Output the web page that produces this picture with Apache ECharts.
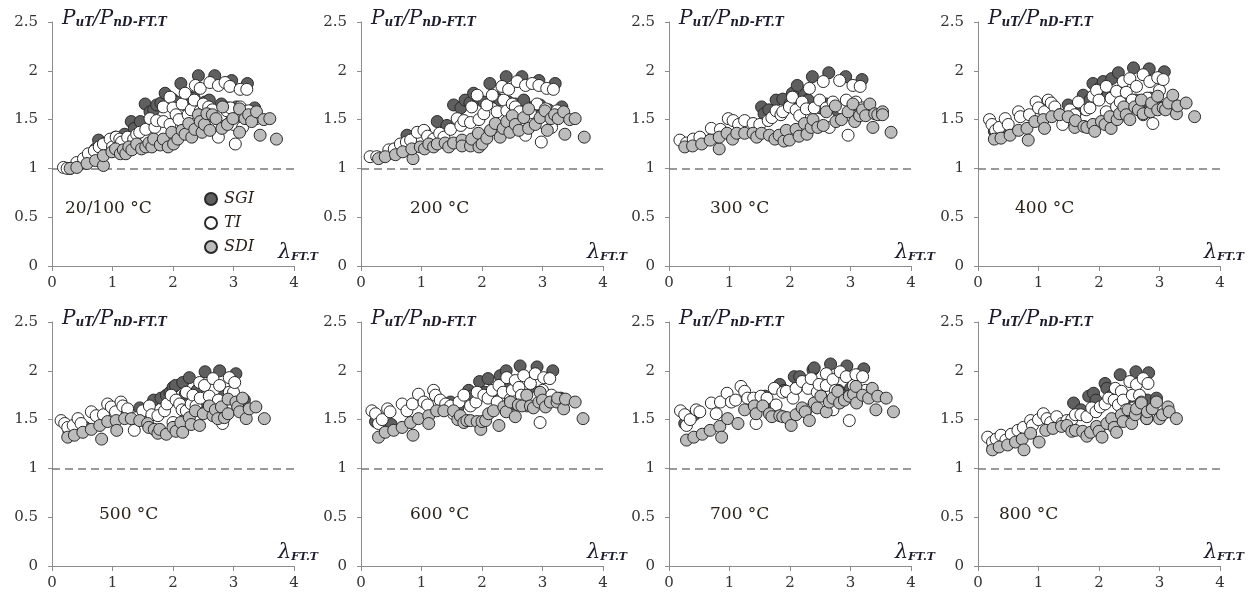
<!DOCTYPE html>
<html>
<head>
<meta charset="utf-8">
<script src="https://cdn.jsdelivr.net/npm/echarts@6/dist/echarts.min.js"></script>
<style>
html,body{margin:0;padding:0;background:#fff;}
#chart{width:1258px;height:597px;}
</style>
</head>
<body>
<div id="chart"></div>
<script>
// ---------- data ----------
const panelLabels = ['20/100 °C', '200 °C', '300 °C', '400 °C', '500 °C', '600 °C', '700 °C', '800 °C'];
const seriesNames = ['SGI', 'TI', 'SDI'];
const xTicks = [0, 1, 2, 3, 4];
const yTicks = [0, 0.5, 1, 1.5, 2, 2.5];
const refLine = 1;

const sgi_100 = [[0.30,1.00],[0.45,1.04],[0.60,1.13],[0.72,1.20],[0.77,1.29],[0.85,1.25],[1.05,1.32],[1.20,1.35],[1.31,1.48],[1.36,1.41],[1.46,1.48],[1.54,1.66],[1.62,1.58],[1.68,1.60],[1.73,1.65],[1.80,1.67],[1.87,1.77],[1.99,1.71],[2.06,1.68],[2.13,1.87],[2.20,1.65],[2.28,1.73],[2.35,1.72],[2.42,1.95],[2.53,1.68],[2.60,1.70],[2.69,1.95],[2.80,1.66],[2.90,1.62],[2.97,1.90],[3.05,1.63],[3.15,1.60],[3.23,1.87],[3.35,1.62]];
const ti_100 = [[0.19,1.01],[0.25,1.00],[0.41,1.06],[0.52,1.10],[0.60,1.15],[0.70,1.18],[0.78,1.22],[0.85,1.25],[0.96,1.30],[1.00,1.22],[1.06,1.32],[1.12,1.30],[1.15,1.27],[1.25,1.32],[1.35,1.30],[1.40,1.35],[1.45,1.37],[1.55,1.40],[1.62,1.51],[1.70,1.42],[1.73,1.49],[1.84,1.48],[1.84,1.63],[1.95,1.73],[1.95,1.45],[2.00,1.62],[2.05,1.55],[2.10,1.50],[2.15,1.66],[2.20,1.77],[2.25,1.55],[2.30,1.60],[2.35,1.70],[2.37,1.85],[2.45,1.82],[2.45,1.59],[2.50,1.66],[2.55,1.52],[2.59,1.63],[2.61,1.88],[2.65,1.60],[2.75,1.85],[2.75,1.32],[2.80,1.55],[2.86,1.88],[2.89,1.59],[2.94,1.84],[2.95,1.62],[3.00,1.45],[3.03,1.25],[3.11,1.81],[3.11,1.63],[3.15,1.42],[3.22,1.81],[3.25,1.59],[3.38,1.51]];
const sdi_100 = [[0.30,1.00],[0.41,1.01],[0.58,1.05],[0.72,1.08],[0.85,1.03],[0.85,1.13],[0.99,1.17],[1.05,1.20],[1.13,1.15],[1.18,1.19],[1.22,1.15],[1.27,1.22],[1.32,1.19],[1.40,1.25],[1.48,1.20],[1.55,1.22],[1.60,1.26],[1.65,1.22],[1.68,1.30],[1.79,1.24],[1.84,1.30],[1.92,1.22],[1.98,1.37],[2.01,1.25],[2.08,1.30],[2.15,1.39],[2.20,1.35],[2.26,1.46],[2.31,1.32],[2.36,1.40],[2.42,1.55],[2.45,1.48],[2.48,1.37],[2.52,1.45],[2.56,1.56],[2.61,1.39],[2.65,1.55],[2.71,1.51],[2.81,1.41],[2.82,1.63],[2.90,1.45],[2.99,1.51],[3.10,1.61],[3.10,1.37],[3.19,1.51],[3.25,1.55],[3.30,1.48],[3.38,1.58],[3.44,1.34],[3.50,1.50],[3.60,1.51],[3.71,1.30]];

const sgi_200 = [[0.29,1.11],[0.55,1.15],[0.76,1.34],[1.05,1.38],[1.26,1.48],[1.42,1.44],[1.53,1.65],[1.65,1.62],[1.72,1.70],[1.80,1.67],[1.86,1.77],[1.94,1.71],[2.03,1.68],[2.13,1.87],[2.22,1.73],[2.30,1.70],[2.40,1.94],[2.44,1.68],[2.55,1.66],[2.66,1.94],[2.69,1.70],[2.85,1.63],[2.94,1.90],[2.96,1.65],[3.10,1.60],[3.21,1.87],[3.32,1.63]];
const ti_200 = [[0.15,1.12],[0.26,1.12],[0.46,1.19],[0.55,1.20],[0.65,1.25],[0.75,1.27],[0.82,1.29],[0.93,1.37],[1.04,1.39],[1.10,1.33],[1.20,1.30],[1.30,1.36],[1.37,1.32],[1.48,1.40],[1.59,1.51],[1.65,1.44],[1.70,1.49],[1.81,1.47],[1.83,1.63],[1.92,1.75],[1.95,1.50],[2.03,1.56],[2.08,1.65],[2.17,1.75],[2.25,1.58],[2.33,1.84],[2.36,1.70],[2.41,1.59],[2.44,1.81],[2.50,1.66],[2.55,1.63],[2.58,1.89],[2.62,1.58],[2.72,1.85],[2.72,1.34],[2.80,1.57],[2.83,1.87],[2.91,1.66],[2.94,1.85],[2.98,1.27],[3.00,1.47],[3.05,1.61],[3.07,1.82],[3.15,1.42],[3.18,1.81],[3.24,1.59]];
const sdi_200 = [[0.29,1.10],[0.40,1.12],[0.57,1.14],[0.69,1.17],[0.86,1.10],[0.84,1.20],[0.98,1.22],[1.05,1.20],[1.12,1.25],[1.20,1.22],[1.26,1.25],[1.39,1.26],[1.45,1.22],[1.53,1.26],[1.67,1.29],[1.67,1.23],[1.81,1.23],[1.83,1.30],[1.94,1.36],[1.95,1.22],[2.00,1.25],[2.08,1.31],[2.14,1.39],[2.22,1.46],[2.30,1.32],[2.35,1.41],[2.41,1.48],[2.46,1.37],[2.50,1.54],[2.55,1.45],[2.61,1.39],[2.69,1.52],[2.77,1.41],[2.77,1.61],[2.88,1.45],[2.96,1.52],[3.04,1.59],[3.08,1.39],[3.14,1.51],[3.20,1.55],[3.26,1.51],[3.35,1.58],[3.37,1.35],[3.45,1.50],[3.54,1.51],[3.69,1.32]];

const sgi_300 = [[0.28,1.24],[0.55,1.28],[1.53,1.63],[1.57,1.56],[1.65,1.60],[1.77,1.70],[1.88,1.71],[2.00,1.66],[2.04,1.77],[2.12,1.85],[2.24,1.75],[2.30,1.70],[2.37,1.94],[2.50,1.62],[2.60,1.66],[2.64,1.98],[2.80,1.58],[2.90,1.62],[2.92,1.94],[3.05,1.60],[3.19,1.91],[3.30,1.58]];
const ti_300 = [[0.18,1.29],[0.29,1.26],[0.40,1.30],[0.51,1.32],[0.70,1.41],[0.85,1.40],[0.98,1.51],[1.06,1.49],[1.15,1.45],[1.25,1.49],[1.39,1.46],[1.50,1.45],[1.64,1.49],[1.70,1.52],[1.77,1.59],[1.85,1.55],[1.88,1.58],[1.99,1.63],[2.04,1.73],[2.10,1.60],[2.16,1.54],[2.20,1.68],[2.27,1.61],[2.32,1.82],[2.40,1.62],[2.49,1.70],[2.55,1.89],[2.60,1.62],[2.65,1.42],[2.71,1.68],[2.82,1.90],[2.85,1.62],[2.93,1.70],[2.96,1.34],[3.00,1.55],[3.04,1.85],[3.09,1.68],[3.16,1.84],[3.20,1.62]];
const sdi_300 = [[0.26,1.22],[0.39,1.23],[0.54,1.25],[0.68,1.29],[0.83,1.20],[0.83,1.32],[0.96,1.36],[1.05,1.30],[1.12,1.36],[1.25,1.36],[1.39,1.36],[1.45,1.32],[1.53,1.36],[1.66,1.34],[1.75,1.30],[1.82,1.34],[1.90,1.28],[1.94,1.39],[1.99,1.29],[2.10,1.40],[2.15,1.33],[2.24,1.46],[2.28,1.35],[2.35,1.42],[2.38,1.50],[2.46,1.42],[2.55,1.44],[2.60,1.58],[2.75,1.64],[2.76,1.48],[2.85,1.50],[2.96,1.58],[3.04,1.66],[3.07,1.48],[3.15,1.54],[3.20,1.60],[3.25,1.54],[3.32,1.66],[3.37,1.42],[3.40,1.56],[3.45,1.55],[3.53,1.58],[3.53,1.55],[3.67,1.37]];

const sgi_400 = [[0.27,1.38],[0.50,1.40],[1.49,1.65],[1.62,1.58],[1.74,1.75],[1.85,1.70],[1.90,1.87],[2.00,1.82],[2.07,1.89],[2.15,1.75],[2.21,1.92],[2.32,1.98],[2.40,1.78],[2.45,1.62],[2.57,2.03],[2.60,1.70],[2.70,1.60],[2.83,2.02],[2.85,1.72],[2.95,1.66],[3.08,1.99],[3.20,1.68]];
const ti_400 = [[0.19,1.50],[0.23,1.45],[0.29,1.39],[0.35,1.42],[0.45,1.51],[0.50,1.45],[0.67,1.58],[0.70,1.53],[0.85,1.55],[0.96,1.68],[1.00,1.62],[1.10,1.58],[1.16,1.70],[1.21,1.67],[1.27,1.63],[1.35,1.55],[1.40,1.45],[1.52,1.60],[1.60,1.55],[1.66,1.68],[1.79,1.60],[1.85,1.62],[1.90,1.74],[1.96,1.80],[2.00,1.70],[2.12,1.84],[2.12,1.58],[2.20,1.72],[2.29,1.79],[2.29,1.63],[2.35,1.68],[2.40,1.89],[2.45,1.78],[2.51,1.92],[2.55,1.70],[2.62,1.84],[2.65,1.62],[2.73,1.96],[2.73,1.55],[2.80,1.72],[2.84,1.89],[2.89,1.46],[2.95,1.62],[2.97,1.93],[3.00,1.80],[3.06,1.91]];
const sdi_400 = [[0.27,1.30],[0.38,1.31],[0.53,1.34],[0.67,1.39],[0.81,1.41],[0.83,1.29],[0.94,1.48],[1.08,1.50],[1.10,1.41],[1.22,1.53],[1.35,1.55],[1.49,1.53],[1.60,1.42],[1.61,1.49],[1.75,1.43],[1.80,1.42],[1.90,1.45],[1.93,1.38],[2.04,1.48],[2.10,1.45],[2.18,1.53],[2.20,1.41],[2.30,1.50],[2.34,1.56],[2.41,1.63],[2.45,1.55],[2.51,1.50],[2.59,1.63],[2.65,1.60],[2.70,1.70],[2.73,1.56],[2.85,1.58],[2.87,1.67],[2.97,1.74],[2.97,1.60],[3.06,1.62],[3.10,1.60],[3.15,1.67],[3.22,1.75],[3.28,1.56],[3.30,1.64],[3.44,1.67],[3.58,1.53]];

const sgi_500 = [[0.28,1.38],[0.55,1.42],[1.45,1.62],[1.60,1.58],[1.68,1.70],[1.80,1.72],[1.89,1.75],[1.95,1.78],[2.00,1.83],[2.04,1.85],[2.16,1.88],[2.20,1.76],[2.27,1.93],[2.40,1.80],[2.45,1.62],[2.53,1.99],[2.60,1.72],[2.70,1.60],[2.77,2.00],[2.85,1.75],[2.95,1.66],[3.04,1.97],[3.18,1.70]];
const ti_500 = [[0.15,1.49],[0.21,1.46],[0.26,1.42],[0.35,1.44],[0.43,1.51],[0.48,1.46],[0.65,1.58],[0.73,1.54],[0.85,1.55],[0.92,1.66],[0.98,1.63],[1.05,1.58],[1.14,1.68],[1.17,1.64],[1.25,1.61],[1.36,1.39],[1.40,1.52],[1.50,1.59],[1.61,1.64],[1.65,1.55],[1.75,1.54],[1.86,1.59],[1.90,1.66],[1.97,1.75],[2.00,1.47],[2.05,1.70],[2.11,1.66],[2.15,1.60],[2.22,1.78],[2.22,1.59],[2.30,1.66],[2.33,1.75],[2.38,1.64],[2.44,1.88],[2.45,1.72],[2.52,1.85],[2.60,1.74],[2.66,1.92],[2.68,1.54],[2.75,1.70],[2.77,1.85],[2.82,1.46],[2.88,1.62],[2.93,1.93],[2.93,1.78],[3.00,1.78],[3.02,1.88]];
const sdi_500 = [[0.26,1.32],[0.37,1.34],[0.51,1.37],[0.65,1.40],[0.79,1.44],[0.82,1.30],[0.92,1.48],[1.06,1.49],[1.07,1.39],[1.20,1.51],[1.31,1.51],[1.45,1.49],[1.58,1.46],[1.60,1.42],[1.69,1.40],[1.75,1.36],[1.78,1.40],[1.89,1.35],[2.00,1.42],[2.05,1.38],[2.13,1.47],[2.16,1.37],[2.27,1.52],[2.30,1.45],[2.37,1.59],[2.44,1.44],[2.50,1.56],[2.60,1.64],[2.66,1.54],[2.70,1.60],[2.74,1.51],[2.80,1.63],[2.85,1.52],[2.91,1.56],[2.91,1.71],[3.04,1.68],[3.07,1.63],[3.10,1.58],[3.15,1.72],[3.21,1.51],[3.26,1.61],[3.37,1.63],[3.51,1.51]];

const sgi_600 = [[0.24,1.48],[0.50,1.45],[1.48,1.68],[1.60,1.62],[1.78,1.80],[1.85,1.75],[1.96,1.89],[2.05,1.78],[2.10,1.92],[2.20,1.80],[2.30,1.95],[2.40,2.00],[2.45,1.82],[2.50,1.66],[2.63,2.05],[2.70,1.75],[2.75,1.66],[2.90,1.78],[2.91,2.04],[3.00,1.70],[3.17,2.00],[3.30,1.72]];
const ti_600 = [[0.18,1.59],[0.24,1.56],[0.29,1.46],[0.35,1.50],[0.44,1.61],[0.48,1.58],[0.68,1.66],[0.76,1.59],[0.85,1.66],[0.95,1.76],[1.04,1.68],[1.10,1.65],[1.20,1.80],[1.23,1.75],[1.31,1.70],[1.40,1.66],[1.48,1.64],[1.53,1.56],[1.62,1.68],[1.70,1.75],[1.81,1.64],[1.90,1.68],[1.92,1.78],[2.03,1.75],[2.10,1.72],[2.17,1.80],[2.25,1.68],[2.28,1.85],[2.35,1.78],[2.41,1.93],[2.47,1.71],[2.50,1.80],[2.55,1.90],[2.61,1.83],[2.65,1.75],[2.69,1.95],[2.74,1.64],[2.80,1.87],[2.85,1.72],[2.88,1.97],[2.96,1.47],[3.00,1.80],[3.02,1.93],[3.12,1.92],[3.15,1.75]];
const sdi_600 = [[0.29,1.32],[0.40,1.37],[0.54,1.39],[0.68,1.42],[0.82,1.47],[0.86,1.34],[0.95,1.51],[1.12,1.54],[1.12,1.46],[1.25,1.59],[1.37,1.59],[1.53,1.59],[1.60,1.50],[1.64,1.54],[1.70,1.47],[1.75,1.49],[1.81,1.49],[1.92,1.48],[1.98,1.40],[2.00,1.48],[2.06,1.49],[2.11,1.56],[2.19,1.59],[2.28,1.44],[2.36,1.63],[2.40,1.58],[2.47,1.68],[2.55,1.53],[2.60,1.65],[2.66,1.64],[2.74,1.75],[2.80,1.64],[2.85,1.62],[2.94,1.68],[2.96,1.78],[3.00,1.70],[3.05,1.63],[3.13,1.68],[3.24,1.68],[3.25,1.72],[3.35,1.61],[3.38,1.71],[3.54,1.68],[3.67,1.51]];

const sgi_700 = [[0.26,1.46],[0.42,1.55],[1.59,1.74],[1.70,1.62],[1.83,1.86],[1.90,1.80],[2.07,1.94],[2.10,1.82],[2.16,1.94],[2.30,1.86],[2.38,2.01],[2.40,2.03],[2.55,1.84],[2.55,1.70],[2.67,2.07],[2.80,1.80],[2.80,1.70],[2.94,2.05],[3.00,1.82],[3.05,1.74],[3.22,2.02],[3.35,1.76]];
const ti_700 = [[0.19,1.59],[0.26,1.55],[0.29,1.44],[0.35,1.50],[0.45,1.60],[0.51,1.58],[0.70,1.67],[0.78,1.56],[0.85,1.68],[0.96,1.77],[1.03,1.68],[1.10,1.70],[1.19,1.84],[1.25,1.79],[1.30,1.72],[1.40,1.72],[1.44,1.46],[1.52,1.74],[1.62,1.72],[1.74,1.82],[1.77,1.65],[1.88,1.78],[1.94,1.79],[2.05,1.72],[2.10,1.82],[2.20,1.89],[2.27,1.60],[2.30,1.82],[2.35,1.92],[2.45,1.78],[2.48,1.86],[2.49,1.67],[2.60,1.97],[2.60,1.85],[2.71,1.91],[2.71,1.60],[2.75,1.80],[2.83,1.99],[2.88,1.72],[2.93,1.94],[2.98,1.49],[3.05,1.85],[3.09,1.96],[3.20,1.94],[3.25,1.80]];
const sdi_700 = [[0.29,1.29],[0.41,1.32],[0.55,1.35],[0.68,1.39],[0.84,1.43],[0.87,1.32],[0.97,1.51],[1.14,1.46],[1.25,1.60],[1.41,1.64],[1.44,1.56],[1.55,1.64],[1.66,1.56],[1.70,1.53],[1.83,1.54],[1.88,1.53],[1.95,1.52],[2.02,1.44],[2.10,1.55],[2.20,1.62],[2.25,1.58],[2.32,1.49],[2.40,1.67],[2.45,1.62],[2.51,1.74],[2.60,1.58],[2.65,1.68],[2.71,1.72],[2.79,1.79],[2.82,1.67],[2.90,1.70],[2.98,1.74],[3.05,1.76],[3.09,1.84],[3.10,1.67],[3.20,1.75],[3.30,1.72],[3.36,1.82],[3.42,1.60],[3.45,1.74],[3.59,1.72],[3.71,1.58]];

const sgi_800 = [[0.25,1.22],[0.50,1.25],[1.58,1.67],[1.70,1.60],[1.83,1.74],[1.91,1.77],[1.95,1.70],[2.10,1.87],[2.13,1.82],[2.20,1.74],[2.35,1.96],[2.45,1.72],[2.45,1.58],[2.61,1.99],[2.65,1.68],[2.70,1.62],[2.80,1.70],[2.82,1.98],[2.95,1.72]];
const ti_800 = [[0.16,1.32],[0.24,1.27],[0.30,1.30],[0.38,1.34],[0.46,1.29],[0.55,1.35],[0.66,1.39],[0.75,1.42],[0.87,1.49],[0.90,1.44],[1.00,1.50],[1.08,1.56],[1.14,1.51],[1.20,1.47],[1.30,1.53],[1.39,1.46],[1.47,1.49],[1.55,1.50],[1.61,1.55],[1.70,1.55],[1.80,1.53],[1.88,1.62],[1.95,1.58],[2.02,1.63],[2.10,1.66],[2.16,1.72],[2.25,1.70],[2.27,1.82],[2.32,1.65],[2.37,1.79],[2.40,1.70],[2.45,1.60],[2.51,1.89],[2.55,1.75],[2.57,1.62],[2.62,1.86],[2.67,1.75],[2.70,1.68],[2.73,1.92],[2.79,1.51],[2.81,1.87]];
const sdi_800 = [[0.24,1.19],[0.35,1.22],[0.49,1.24],[0.62,1.27],[0.73,1.30],[0.76,1.19],[0.87,1.36],[1.01,1.27],[1.12,1.39],[1.24,1.41],[1.38,1.43],[1.47,1.44],[1.55,1.38],[1.61,1.39],[1.73,1.38],[1.80,1.33],[1.86,1.37],[1.96,1.43],[2.00,1.38],[2.05,1.32],[2.13,1.46],[2.21,1.51],[2.25,1.42],[2.29,1.37],[2.37,1.55],[2.40,1.48],[2.48,1.60],[2.54,1.46],[2.60,1.55],[2.62,1.61],[2.70,1.67],[2.79,1.51],[2.80,1.58],[2.88,1.61],[2.95,1.68],[3.00,1.51],[3.05,1.55],[3.14,1.63],[3.16,1.58],[3.28,1.51]];

const panelData = [
  [sgi_100, ti_100, sdi_100],
  [sgi_200, ti_200, sdi_200],
  [sgi_300, ti_300, sdi_300],
  [sgi_400, ti_400, sdi_400],
  [sgi_500, ti_500, sdi_500],
  [sgi_600, ti_600, sdi_600],
  [sgi_700, ti_700, sdi_700],
  [sgi_800, ti_800, sdi_800]
];

// ---------- layout / style ----------
const colLeft = [52, 361, 669, 978];
const rowTop = [22, 322];
const gridW = 242, gridH = 244;
const fills = ['#5f5f5f', '#ffffff', '#bcbcbc'];
const labelOffsets = [[13, 178], [49, 178], [41, 178], [37, 178], [47, 184], [49, 184], [41, 184], [21, 184]];
const serif = 'DejaVu Serif';

const chart = echarts.init(document.getElementById('chart'), null, { renderer: 'canvas' });

const grids = [], xAxes = [], yAxes = [], series = [], graphics = [];
for (let i = 0; i < 8; i++) {
  const left = colLeft[i % 4], top = rowTop[Math.floor(i / 4)];
  grids.push({ left: left, top: top, width: gridW, height: gridH });
  xAxes.push({
    gridIndex: i, type: 'value', min: xTicks[0], max: xTicks[xTicks.length - 1], interval: 1,
    splitLine: { show: false },
    axisLine: { show: true, onZero: false, lineStyle: { color: '#8c8c8c', width: 1 } },
    axisTick: { show: true, length: 5, lineStyle: { color: '#8c8c8c' } },
    axisLabel: { margin: 10, color: '#333333', fontFamily: serif, fontSize: 15 }
  });
  yAxes.push({
    gridIndex: i, type: 'value', min: yTicks[0], max: yTicks[yTicks.length - 1], interval: 0.5,
    splitLine: { show: false },
    axisLine: { show: true, onZero: false, lineStyle: { color: '#8c8c8c', width: 1 } },
    axisTick: { show: true, length: 4, lineStyle: { color: '#8c8c8c' } },
    axisLabel: { margin: 14, color: '#333333', fontFamily: serif, fontSize: 15 }
  });
  for (let s = 0; s < 3; s++) {
    const ser = {
      name: seriesNames[s], type: 'scatter', xAxisIndex: i, yAxisIndex: i,
      data: panelData[i][s], symbol: 'circle', symbolSize: 12,
      itemStyle: { color: fills[s], borderColor: '#2a2a2a', borderWidth: 1, opacity: 1 },
      z: 2 + s, animation: false, silent: true
    };
    if (s === 0) {
      ser.markLine = {
        silent: true, symbol: ['none', 'none'], label: { show: false },
        lineStyle: { color: '#7a7a7a', type: [8, 5], width: 1.5 },
        data: [{ yAxis: refLine }], animation: false, z: 1
      };
    }
    series.push(ser);
  }
  // axis title
  graphics.push({
    type: 'text', left: left + 10, top: top - 13,
    style: {
      text: '{p|P}{s|uT}{p|/P}{s|nD-FT.T}',
      rich: {
        p: { fontFamily: serif, fontStyle: 'italic', fontSize: 20, fill: '#1c1c2c', verticalAlign: 'bottom', lineHeight: 25 },
        s: { fontFamily: serif, fontStyle: 'italic', fontWeight: 'bold', fontSize: 12, fill: '#1c1c2c', verticalAlign: 'bottom', lineHeight: 22 }
      }
    }
  });
  // lambda label
  graphics.push({
    type: 'text', left: left + 226, top: top + 220,
    style: {
      text: '{l|λ}{s|FT.T}',
      rich: {
        l: { fontFamily: serif, fontStyle: 'italic', fontSize: 21, fill: '#1c1c2c', verticalAlign: 'bottom', lineHeight: 26 },
        s: { fontFamily: serif, fontStyle: 'italic', fontWeight: 'bold', fontSize: 11, fill: '#1c1c2c', verticalAlign: 'bottom', lineHeight: 22 }
      }
    }
  });
  // temperature label
  graphics.push({
    type: 'text', left: left + labelOffsets[i][0], top: top + labelOffsets[i][1],
    style: { text: panelLabels[i], fontFamily: serif, fontSize: 17, fill: '#2a2218' }
  });
}

chart.setOption({
  animation: false,
  backgroundColor: '#ffffff',
  grid: grids, xAxis: xAxes, yAxis: yAxes, series: series,
  legend: {
    data: seriesNames, orient: 'vertical', left: 199, top: 186,
    itemWidth: 12, itemHeight: 12, itemGap: 8, icon: 'circle',
    selectedMode: false,
    textStyle: { fontFamily: serif, fontStyle: 'italic', fontSize: 16, color: '#2a2218', padding: [0, 0, 0, 2] }
  },
  graphic: graphics
});
</script>
</body>
</html>
